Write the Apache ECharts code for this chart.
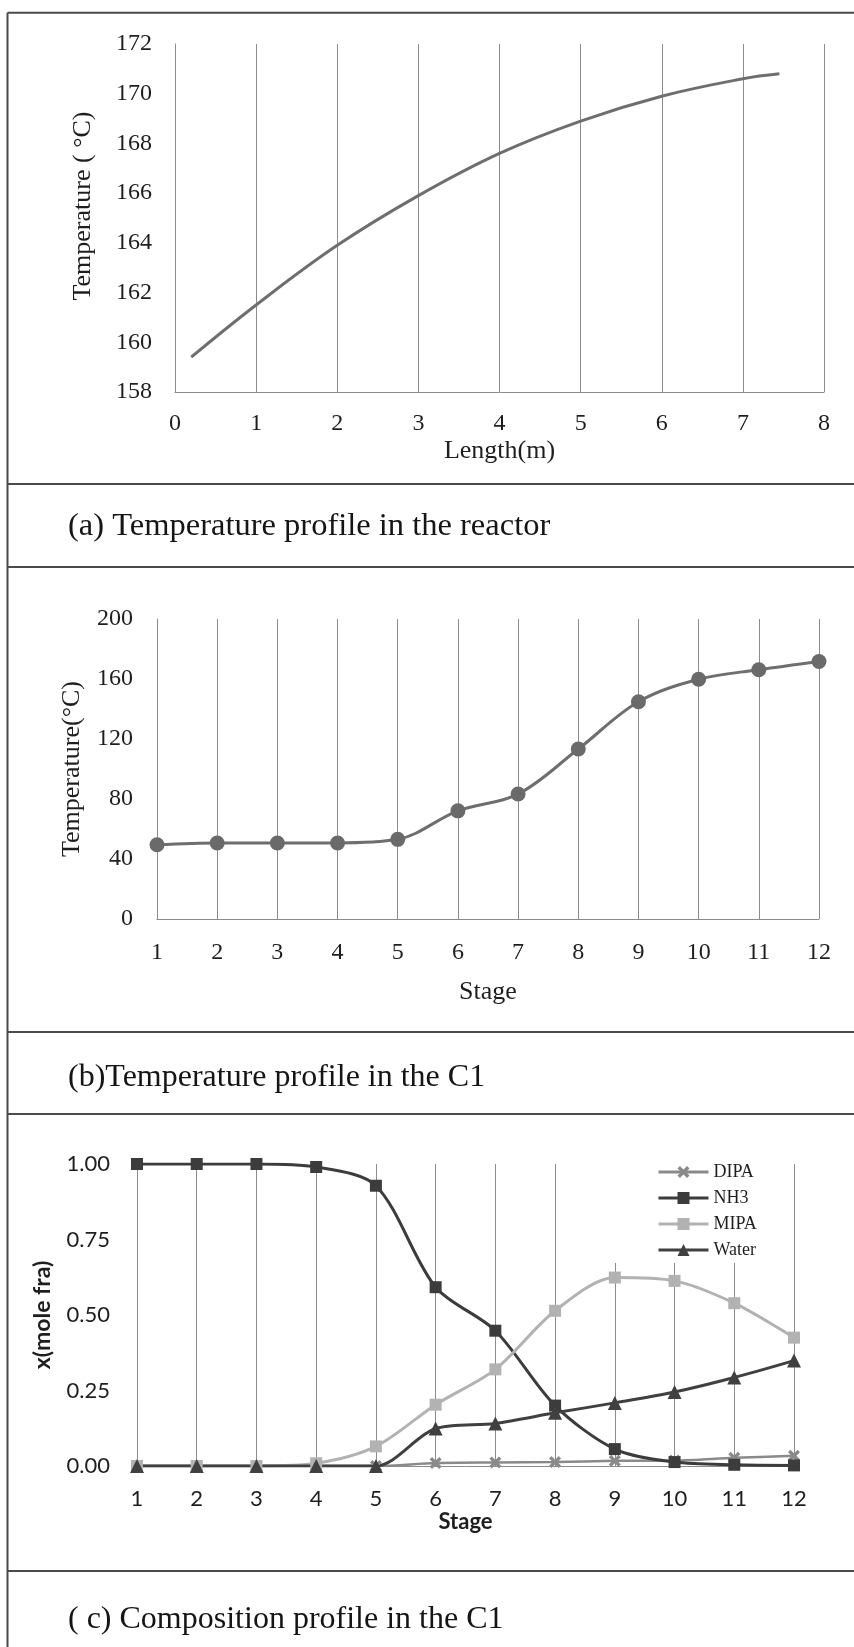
<!DOCTYPE html>
<html>
<head>
<meta charset="utf-8">
<script src="https://cdn.jsdelivr.net/npm/echarts@6/dist/echarts.min.js"></script>
<style>
  html, body { margin: 0; padding: 0; background: #ffffff; }
  #chart { width: 854px; height: 1647px; }
</style>
</head>
<body>
<div id="chart"></div>
<script>
// ---- Panel (a): temperature profile in the reactor ----
const reactorLength = [0.2, 1, 2, 3, 4, 5, 6, 7, 7.45];
const reactorTemp = [159.4, 161.5, 163.9, 165.9, 167.6, 168.9, 169.9, 170.6, 170.8];

// ---- Panel (b): temperature profile in C1 ----
const stages = [1, 2, 3, 4, 5, 6, 7, 8, 9, 10, 11, 12];
const c1Temp = [49.5, 50.7, 50.7, 50.7, 53.1, 72.1, 83.3, 113.3, 144.8, 159.8, 166.2, 171.7];

// ---- Panel (c): composition profile in C1 ----
const dipa  = [0, 0, 0, 0, 0, 0.010, 0.012, 0.013, 0.017, 0.018, 0.027, 0.034];
const nh3   = [1.0, 1.0, 1.0, 0.99, 0.928, 0.592, 0.448, 0.200, 0.056, 0.013, 0.004, 0.002];
const mipa  = [0, 0, 0, 0.009, 0.065, 0.203, 0.320, 0.514, 0.624, 0.613, 0.539, 0.425];
const water = [0, 0, 0, 0, 0, 0.124, 0.141, 0.176, 0.209, 0.245, 0.293, 0.349];

const legendNames = ['DIPA', 'NH3', 'MIPA', 'Water'];
const captions = [
  '(a) Temperature profile in the reactor',
  '(b)Temperature profile in the C1',
  '( c) Composition profile in the C1'
];

const pair = (xs, ys) => xs.map((x, i) => [x, ys[i]]);

const SERIF = '"Liberation Serif", "Times New Roman", serif';
const SANS = 'Lato, "Open Sans", sans-serif';
const GRID_C = '#8c8c8c';
const BORDER_C = '#4a4a4a';
const TEXT_C = '#1e1e1e';
const X_SYMBOL = 'path://M0,2 L2,0 L5,3 L8,0 L10,2 L7,5 L10,8 L8,10 L5,7 L2,10 L0,8 L3,5 Z';

function serifAxis(extra) {
  return Object.assign({
    axisLine: { show: true, lineStyle: { color: GRID_C, width: 1 } },
    axisTick: { show: false },
    nameLocation: 'middle',
    nameTextStyle: { fontFamily: SERIF, fontSize: 26, color: TEXT_C },
    axisLabel: { fontFamily: SERIF, fontSize: 24, color: TEXT_C }
  }, extra);
}

const chart = echarts.init(document.getElementById('chart'), null, { renderer: 'canvas' });

const hLines = [12.7, 484, 567, 1032, 1114, 1571];
const graphics = hLines.map(y => ({
  type: 'line', silent: true,
  shape: { x1: 7.5, y1: y, x2: 854, y2: y },
  style: { stroke: BORDER_C, lineWidth: 2 }
}));
graphics.push({
  type: 'line', silent: true,
  shape: { x1: 7.5, y1: 12.7, x2: 7.5, y2: 1647 },
  style: { stroke: BORDER_C, lineWidth: 2 }
});
const captionY = [526, 1078, 1620];
captions.forEach((t, i) => {
  graphics.push({
    type: 'text', silent: true,
    style: {
      text: t, x: 68, y: captionY[i],
      fontFamily: SERIF, fontSize: i === 0 ? 32.5 : 32, fill: '#151515',
      verticalAlign: 'middle', textVerticalAlign: 'middle'
    }
  });
});

const option = {
  backgroundColor: '#ffffff',
  animation: false,
  grid: [
    { left: 175, top: 44, width: 649, height: 348 },
    { left: 157, top: 619, width: 662, height: 300 },
    { left: 137, top: 1164, width: 657, height: 302 }
  ],
  xAxis: [
    serifAxis({
      gridIndex: 0, type: 'value', min: 0, max: 8, interval: 1,
      splitLine: { show: true, lineStyle: { color: GRID_C, width: 1 } },
      axisLabel: { fontFamily: SERIF, fontSize: 24, color: TEXT_C, margin: 20 },
      name: 'Length(m)', nameGap: 46
    }),
    serifAxis({
      gridIndex: 1, type: 'value', min: 1, max: 12, interval: 1,
      splitLine: { show: true, lineStyle: { color: GRID_C, width: 1 } },
      axisLabel: { fontFamily: SERIF, fontSize: 24, color: TEXT_C, margin: 22 },
      name: 'Stage', nameGap: 60
    }),
    {
      gridIndex: 2, type: 'value', min: 1, max: 12, interval: 1,
      axisLine: { show: true, lineStyle: { color: GRID_C, width: 1 } },
      axisTick: { show: false },
      splitLine: { show: true, lineStyle: { color: GRID_C, width: 1 } },
      axisLabel: { fontFamily: SANS, fontSize: 22, color: TEXT_C, margin: 22 },
      name: 'Stage', nameLocation: 'middle', nameGap: 42,
      nameTextStyle: { fontFamily: SANS, fontSize: 22, fontWeight: 'bold', color: TEXT_C }
    }
  ],
  yAxis: [
    serifAxis({
      gridIndex: 0, type: 'value', min: 158, max: 172, interval: 2,
      splitLine: { show: false },
      axisLabel: { fontFamily: SERIF, fontSize: 24, color: TEXT_C, margin: 23 },
      name: 'Temperature ( °C)', nameGap: 79,
      nameTextStyle: { fontFamily: SERIF, fontSize: 26, color: TEXT_C, padding: [0, 0, 0, 24] }
    }),
    serifAxis({
      gridIndex: 1, type: 'value', min: 0, max: 200, interval: 40,
      splitLine: { show: false },
      axisLabel: { fontFamily: SERIF, fontSize: 24, color: TEXT_C, margin: 24 },
      name: 'Temperature(°C)', nameGap: 72
    }),
    {
      gridIndex: 2, type: 'value', min: 0, max: 1, interval: 0.25,
      axisLine: { show: false },
      axisTick: { show: false },
      splitLine: { show: false },
      axisLabel: { fontFamily: SANS, fontSize: 22, color: TEXT_C, margin: 27,
                   formatter: v => v.toFixed(2) },
      name: 'x(mole fra)', nameLocation: 'middle', nameGap: 83,
      nameTextStyle: { fontFamily: SANS, fontSize: 23, fontWeight: 'bold', color: TEXT_C }
    }
  ],
  legend: {
    data: legendNames,
    orient: 'vertical',
    left: 597, top: 1155,
    padding: [8, 20, 4, 60],
    itemWidth: 50, itemHeight: 15, itemGap: 8,
    backgroundColor: '#ffffff',
    lineStyle: { width: 3 },
    textStyle: { fontFamily: SERIF, fontSize: 18, color: TEXT_C }
  },
  series: [
    {
      type: 'line', xAxisIndex: 0, yAxisIndex: 0,
      data: pair(reactorLength, reactorTemp),
      smooth: 0.4, showSymbol: false, symbol: 'none',
      lineStyle: { color: '#6e6e6e', width: 3 }
    },
    {
      type: 'line', xAxisIndex: 1, yAxisIndex: 1,
      data: pair(stages, c1Temp),
      smooth: 0.35, symbol: 'circle', symbolSize: 15,
      itemStyle: { color: '#6a6a6a' },
      lineStyle: { color: '#6e6e6e', width: 3 }
    },
    {
      name: 'DIPA', type: 'line', xAxisIndex: 2, yAxisIndex: 2,
      data: pair(stages, dipa),
      smooth: 0.3, symbol: X_SYMBOL, symbolSize: 12,
      itemStyle: { color: '#8a8a8a' },
      lineStyle: { color: '#8a8a8a', width: 2.5 }
    },
    {
      name: 'NH3', type: 'line', xAxisIndex: 2, yAxisIndex: 2,
      data: pair(stages, nh3),
      smooth: 0.3, symbol: 'rect', symbolSize: 12,
      itemStyle: { color: '#3c3c3c' },
      lineStyle: { color: '#3c3c3c', width: 3 }
    },
    {
      name: 'MIPA', type: 'line', xAxisIndex: 2, yAxisIndex: 2,
      data: pair(stages, mipa),
      smooth: 0.3, symbol: 'rect', symbolSize: 12,
      itemStyle: { color: '#b2b2b2' },
      lineStyle: { color: '#b2b2b2', width: 3 }
    },
    {
      name: 'Water', type: 'line', xAxisIndex: 2, yAxisIndex: 2,
      data: pair(stages, water),
      smooth: 0.3, symbol: 'triangle', symbolSize: 14,
      itemStyle: { color: '#404040' },
      lineStyle: { color: '#404040', width: 3 }
    }
  ],
  graphic: graphics
};

chart.setOption(option);
</script>
</body>
</html>
